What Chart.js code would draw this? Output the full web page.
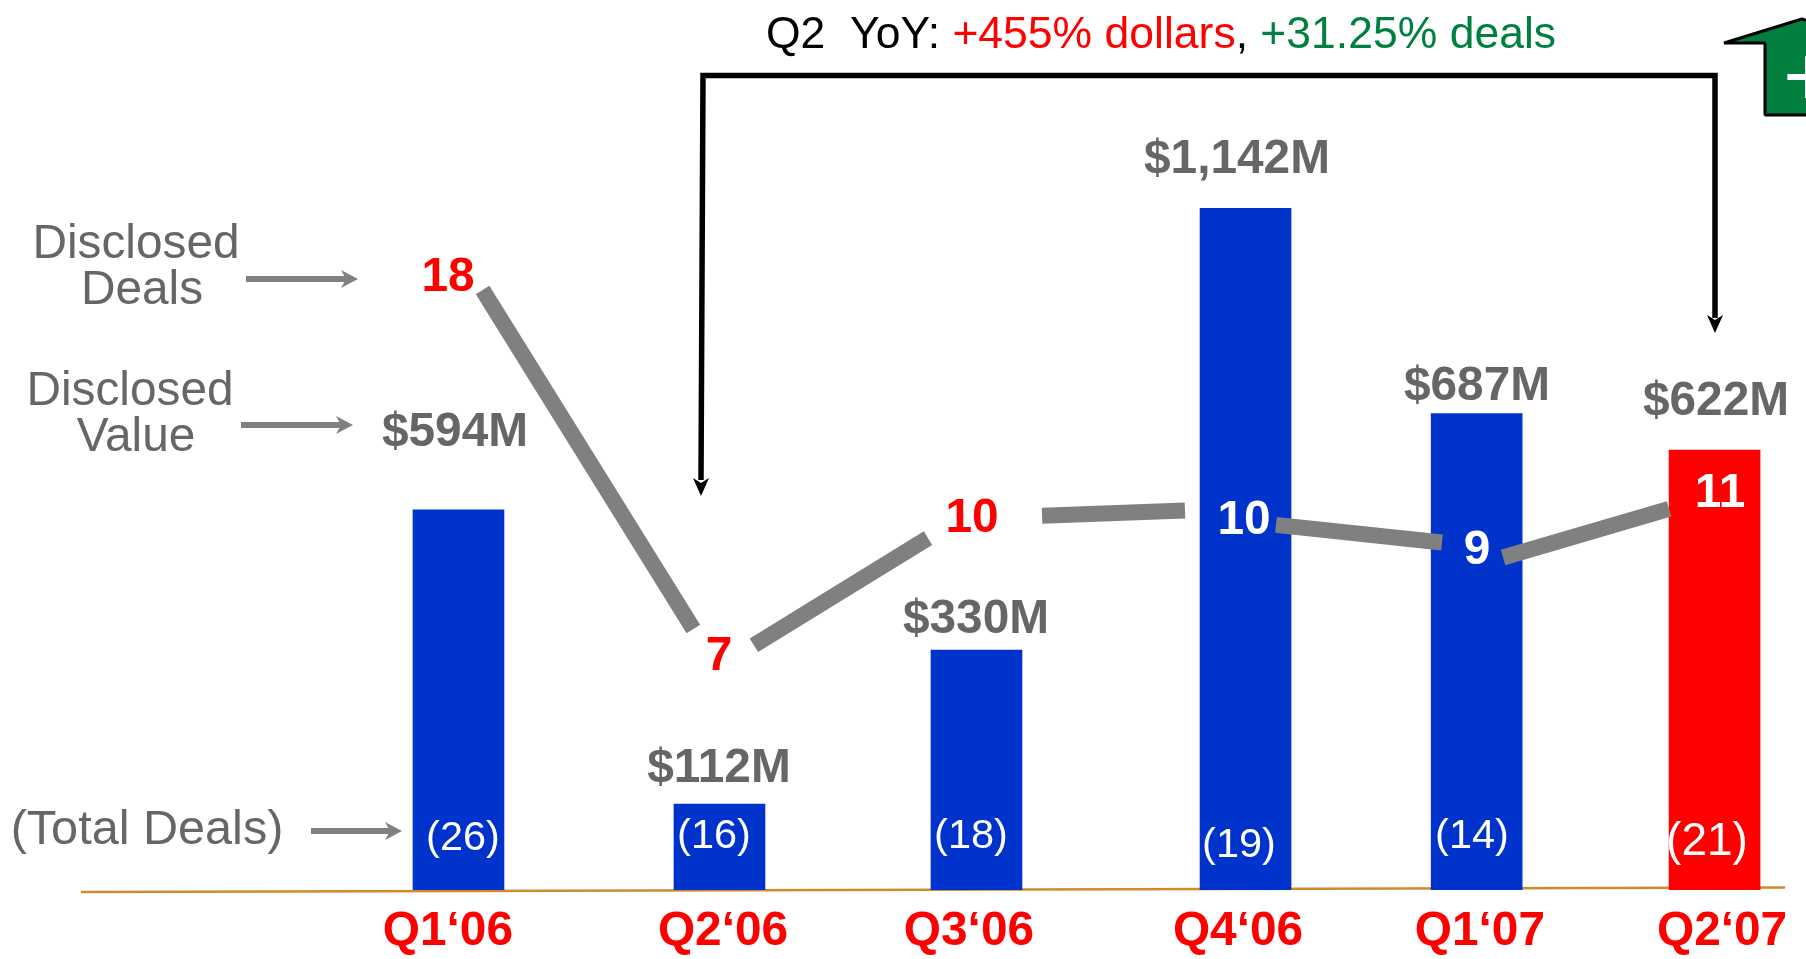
<!DOCTYPE html>
<html>
<head>
<meta charset="utf-8">
<title>Disclosed deals by quarter</title>
<script src="https://cdn.jsdelivr.net/npm/chart.js@4/dist/chart.umd.min.js"></script>
<style>
html,body{margin:0;padding:0;background:#fff;overflow:hidden}
canvas{display:block}
</style>
</head>
<body>
<canvas id="c" width="1806" height="959"></canvas>
<script>
// Category and printed values
const categories = ['Q1‘06','Q2‘06','Q3‘06','Q4‘06','Q1‘07','Q2‘07'];
const disclosedValueLabels = ['$594M','$112M','$330M','$1,142M','$687M','$622M'];
const disclosedDeals = [18,7,10,10,9,11];
const totalDeals = [26,16,18,19,14,21];

// The source graphic is schematic: bars are not proportional to their printed $ labels.
// These are the drawn bar heights, on a scale where Q4'06 = 1142.
const drawnBarHeights = [637,144,402,1142,798,737];
// Quarter slots as drawn (the source spaces its bars unevenly), and where its labels sit.
const barSlots = [0,1.039,2.062,3.133,4.053,5];
const tickSlots = [-0.042,1.053,2.032,3.103,4.066,5.03];
// Broken deal trend line as drawn (null = gap round a label).
const trendX = [0.096,0.935,1.05,1.176,1.869,2.1,2.323,2.892,3.1,3.254,3.915,4.0,4.158,4.819];
const trendY = [17.65,7.68,null,7.2,10.35,null,11.01,11.16,null,10.74,10.22,null,9.78,11.21];

const BLUE='#0033CC', RED='#FF0000', GREY='#666666', LINE='#808080', GREEN='#008040';
const barColors=[BLUE,BLUE,BLUE,BLUE,BLUE,RED];
const FONT='"Liberation Sans", Arial, sans-serif';

const valuePos=[[455,433],[719,769],[976,620],[1237,160],[1477,387],[1716,402]];
const dealPos=[[448,278],[719,657],[972,519],[1244,521],[1477,551],[1720,494]];
const dealColors=[RED,RED,RED,'#fff','#fff','#fff'];
const totalPos=[[463,839],[714,837],[971,837],[1239,846],[1472,837],[1707,842]];
const totalSizes=[41.5,41.5,41.5,41.5,41.5,46];

function text(ctx,s,x,y,font,color,align){
  ctx.font=font;ctx.fillStyle=color;ctx.textAlign=align||'center';ctx.textBaseline='middle';
  ctx.fillText(s,x,y);
}
function arrow(ctx,x1,y,x2,color){
  ctx.strokeStyle=color;ctx.lineWidth=6;ctx.lineCap='butt';
  ctx.beginPath();ctx.moveTo(x1,y);ctx.lineTo(x2-10,y);ctx.stroke();
  ctx.fillStyle=color;ctx.beginPath();
  ctx.moveTo(x2,y);ctx.lineTo(x2-17,y-9);ctx.lineTo(x2-12,y);ctx.lineTo(x2-17,y+9);ctx.closePath();ctx.fill();
}
function downHead(ctx,x,y){
  ctx.fillStyle='#000';ctx.beginPath();
  ctx.moveTo(x,y);ctx.lineTo(x-8,y-18);ctx.lineTo(x,y-13);ctx.lineTo(x+8,y-18);ctx.closePath();ctx.fill();
}

const baselinePlugin={
  id:'baseline',
  beforeDatasetsDraw(chart){
    const c=chart.ctx;c.save();
    c.strokeStyle='#D08A2A';c.lineWidth=2.5;
    c.beginPath();c.moveTo(81,892);c.lineTo(1785,887.5);c.stroke();
    c.restore();
  }
};

const annotationPlugin={
  id:'annotations',
  afterDatasetsDraw(chart){
    const c=chart.ctx;c.save();
    const B='bold 47.8px '+FONT, R='47.8px '+FONT;

    // side captions
    text(c,'Disclosed',136,245,R,GREY);
    text(c,'Deals',142,291,R,GREY);
    text(c,'Disclosed',130,392,R,GREY);
    text(c,'Value',136,438,R,GREY);
    text(c,'(Total Deals)',147,831,'48.6px '+FONT,GREY);
    arrow(c,246,279,358,LINE);
    arrow(c,241,425,353,LINE);
    arrow(c,311,831,402,LINE);

    // printed values
    disclosedValueLabels.forEach((s,i)=>text(c,s,valuePos[i][0],valuePos[i][1],B,GREY));
    disclosedDeals.forEach((v,i)=>text(c,String(v),dealPos[i][0],dealPos[i][1],B,dealColors[i]));
    totalDeals.forEach((v,i)=>text(c,'('+v+')',totalPos[i][0],totalPos[i][1],totalSizes[i]+'px '+FONT,'#fff'));

    // YoY bracket
    c.strokeStyle='#000';c.lineWidth=5.5;c.lineCap='butt';c.lineJoin='miter';
    c.beginPath();c.moveTo(701,480);c.lineTo(703,75.5);c.lineTo(1715,75.5);c.lineTo(1715,318);c.stroke();
    downHead(c,701,496);
    downHead(c,1715,333);

    // YoY heading
    const parts=[['Q2  YoY: ','#000'],['+455% dollars',RED],[', ','#000'],['+31.25% deals',GREEN]];
    c.font='44.5px '+FONT;c.textBaseline='middle';c.textAlign='left';
    let x=766;
    parts.forEach(p=>{c.fillStyle=p[1];c.fillText(p[0],x,36);x+=c.measureText(p[0]).width;});

    // green up arrow, cropped by the page edge
    c.fillStyle='#007F3F';c.strokeStyle='#000';c.lineWidth=3;c.lineJoin='bevel';
    c.beginPath();c.moveTo(1724,43);c.lineTo(1802,19);c.lineTo(1880,43);c.lineTo(1850,43);
    c.lineTo(1850,115);c.lineTo(1765,115);c.lineTo(1765,43);c.closePath();c.fill();c.stroke();
    text(c,'+',1808,83,'85px '+FONT,'#fff');
    c.restore();
  }
};

new Chart(document.getElementById('c'),{
  data:{
    datasets:[
      {type:'line',label:'Disclosed deals',order:0,xAxisID:'x',yAxisID:'yDeals',
       data:trendX.map((x,i)=>({x,y:trendY[i]})),
       borderColor:LINE,borderWidth:16,borderCapStyle:'butt',pointRadius:0,tension:0,spanGaps:false,fill:false},
      {type:'bar',label:'Disclosed value',order:1,xAxisID:'x',yAxisID:'y',
       data:barSlots.map((x,i)=>({x,y:drawnBarHeights[i]})),
       backgroundColor:barColors,borderWidth:0,barThickness:91}
    ]
  },
  options:{
    responsive:false,animation:false,
    layout:{padding:0},
    plugins:{legend:{display:false},tooltip:{enabled:false},title:{display:false}},
    scales:{
      x:{type:'linear',offset:false,min:-1.825,max:5.364,
         grid:{display:false,drawTicks:false,offset:false},border:{display:false},
         afterBuildTicks(s){s.ticks=tickSlots.map(value=>({value}));},
         afterFit(s){s.height=69;s.paddingLeft=0;s.paddingRight=0;},
         ticks:{autoSkip:false,maxRotation:0,minRotation:0,padding:13,color:RED,
                font:{family:FONT,size:47.8,weight:'bold'},
                callback:(v,i)=>categories[i]}},
      y:{type:'linear',display:false,min:0,max:1491},
      yDeals:{type:'linear',display:false,min:0,max:26.18}
    }
  },
  plugins:[baselinePlugin,annotationPlugin]
});
</script>
</body>
</html>
